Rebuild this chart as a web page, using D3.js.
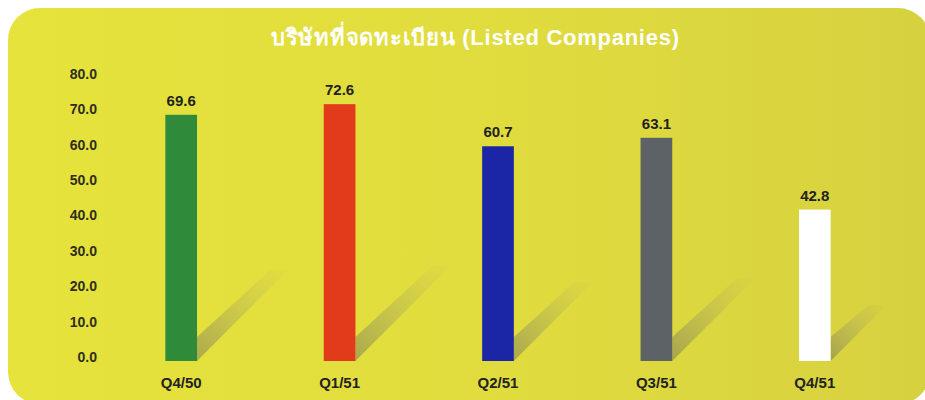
<!DOCTYPE html>
<html>
<head>
<meta charset="utf-8">
<script src="https://cdn.jsdelivr.net/npm/d3@7"></script>
<style>
  body { margin: 0; background: #fff; }
  text { font-family: "Liberation Sans", Arial, sans-serif; }
</style>
</head>
<body>
<script>
const width = 925;
const height = 400;

// chart data
const quarters = ["Q4/50", "Q1/51", "Q2/51", "Q3/51", "Q4/51"];
const companies = [69.6, 72.6, 60.7, 63.1, 42.8];
const barColors = ["#2f8a3a", "#e23b1c", "#1a26a6", "#5d6266", "#ffffff"];
const yTicks = [0, 10, 20, 30, 40, 50, 60, 70, 80];
const title = "บริษัทที่จดทะเบียน (Listed Companies)";

const data = quarters.map((q, i) => ({ q: q, v: companies[i], c: barColors[i] }));

const svg = d3.select("body")
    .append("svg")
    .attr("width", width)
    .attr("height", height);

const defs = svg.append("defs");

const bg = defs.append("linearGradient")
    .attr("id", "bg")
    .attr("x1", "0").attr("y1", "0")
    .attr("x2", "1").attr("y2", "0");
bg.append("stop").attr("offset", "0").attr("stop-color", "#e6e33c");
bg.append("stop").attr("offset", "0.55").attr("stop-color", "#e0dc3e");
bg.append("stop").attr("offset", "1").attr("stop-color", "#d6d13f");

const shade = defs.append("linearGradient")
    .attr("id", "shade")
    .attr("x1", "0").attr("y1", "1")
    .attr("x2", "1").attr("y2", "0");
shade.append("stop").attr("offset", "0").attr("stop-color", "#666660").attr("stop-opacity", 0.45);
shade.append("stop").attr("offset", "1").attr("stop-color", "#9a9a80").attr("stop-opacity", 0.02);

// yellow panel
svg.append("rect")
    .attr("x", 8)
    .attr("y", 8)
    .attr("width", 922)
    .attr("height", 396)
    .attr("rx", 32)
    .style("fill", "url(#bg)");

svg.append("text")
    .attr("x", 475)
    .attr("y", 45)
    .attr("text-anchor", "middle")
    .attr("textLength", 408)
    .attr("lengthAdjust", "spacing")
    .style("font-size", "22px")
    .style("font-weight", "bold")
    .style("fill", "#fff")
    .text(title);

const x = d3.scaleBand()
    .domain(quarters)
    .range([102, 894])
    .paddingInner(0.8)
    .paddingOuter(0.4);

const y = d3.scaleLinear()
    .domain([0, 80])
    .range([361, 78]);

// y axis: labels only
const yAxis = svg.append("g")
    .attr("transform", "translate(97,-4)")
    .call(d3.axisLeft(y).tickValues(yTicks).tickSize(0).tickPadding(0).tickFormat(d3.format(".1f")));
yAxis.select(".domain").remove();
yAxis.selectAll("text")
    .style("font-family", "'Liberation Sans', Arial, sans-serif")
    .style("font-size", "14px")
    .style("font-weight", "bold")
    .style("fill", "#2e2e1c");

// shadows
const k = 0.37;
svg.selectAll("path.shadow")
    .data(data)
    .enter()
    .append("path")
    .attr("class", "shadow")
    .attr("d", d => {
        const xr = x(d.q) + x.bandwidth();
        const yb = y(0);
        const L = (y(0) - y(d.v)) * k;
        const t = 24;
        return `M${xr},${yb} L${xr},${yb - t} L${xr + L - 18},${yb - L} L${xr + L},${yb - L} Z`;
    })
    .style("fill", "url(#shade)");

svg.selectAll("rect.bar")
    .data(data)
    .enter()
    .append("rect")
    .attr("class", "bar")
    .attr("x", d => x(d.q))
    .attr("y", d => y(d.v))
    .attr("width", x.bandwidth())
    .attr("height", d => y(0) - y(d.v))
    .style("fill", d => d.c);

svg.selectAll("text.val")
    .data(data)
    .enter()
    .append("text")
    .attr("class", "val")
    .attr("x", d => x(d.q) + x.bandwidth() / 2)
    .attr("y", d => y(d.v) - 9)
    .attr("text-anchor", "middle")
    .style("font-size", "15px")
    .style("font-weight", "bold")
    .style("fill", "#222")
    .text(d => d.v.toFixed(1));

svg.selectAll("text.cat")
    .data(data)
    .enter()
    .append("text")
    .attr("class", "cat")
    .attr("x", d => x(d.q) + x.bandwidth() / 2)
    .attr("y", 388)
    .attr("text-anchor", "middle")
    .style("font-size", "15px")
    .style("font-weight", "bold")
    .style("fill", "#222")
    .text(d => d.q);
</script>
</body>
</html>
